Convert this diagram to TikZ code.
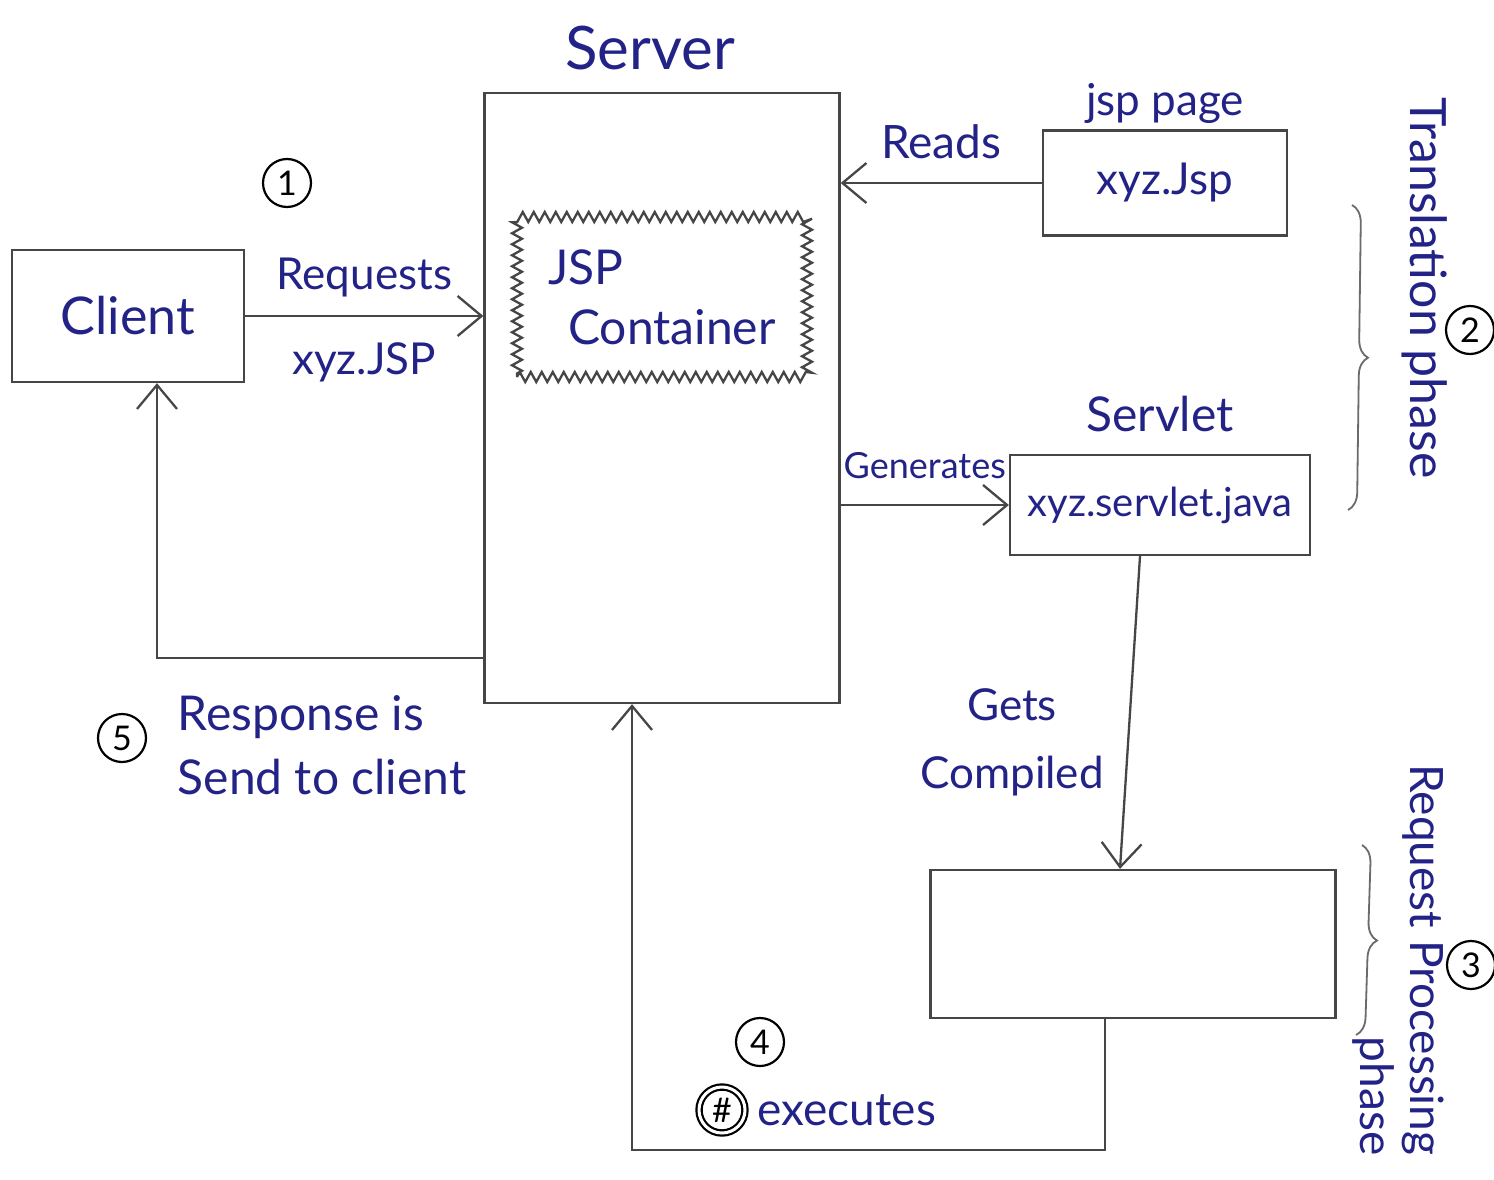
\documentclass[tikz,border=0pt]{standalone}
\usepackage{fontspec}
\setmainfont{Lato}
\usepackage{tikz}
\usetikzlibrary{positioning,calc,arrows.meta,decorations.pathmorphing,decorations.pathreplacing}
\definecolor{ink}{RGB}{35,35,135}
\definecolor{pencil}{RGB}{70,70,70}

\begin{document}
\begin{tikzpicture}[x=1pt, y=-1pt, >={Straight Barb[length=24pt,width=40pt]}, box/.style = {draw=pencil, line width=2.3pt, inner sep=0pt}, hand/.style = {text=ink, font=\fontsize{44}{56}\selectfont}, num/.style = {circle, draw=black, line width=2.2pt, minimum size=48pt, inner sep=0pt, font=\fontsize{34}{34}\selectfont}, flow/.style = {->, draw=pencil, line width=2.3pt}, curly/.style = {draw=pencil!80, line width=1.8pt, decorate, decoration={brace, amplitude=18pt}}]

\useasboundingbox[fill=white] (0,0) rectangle (1494,1180);

% server and container
\node[hand, font=\fontsize{60}{60}\selectfont] at (650,48) {Server};
\node[box, minimum width=355pt, minimum height=610pt] (server) at (662,398) {};
\node[box, hand, font=\fontsize{48}{60}\selectfont, decorate, decoration={zigzag, segment length=11pt, amplitude=5pt}, minimum width=290pt, minimum height=160pt, align=left] (container) at (662,297) {JSP\\\hspace{20pt}Container};

% client side
\node[box, hand, font=\fontsize{52}{52}\selectfont, minimum width=232pt, minimum height=132pt] (client) at (128,316) {Client};
\node[num] (one) at (287,183) {1};
\coordinate (back) at (157,658);
\path
 (client.east) edge[flow] node[hand, above=14pt] {Requests} node[hand, below=22pt] {xyz.JSP} (client.east -| server.west);
\draw[flow] (server.west |- back) -- (back) -- (back |- client.south);
\node[num] (five) at (122,738) {5};
\node[hand, font=\fontsize{48}{64}\selectfont, align=left] at (322,745) {Response is\\Send to client};

% jsp page and servlet
\node[box, hand, minimum width=244pt, minimum height=105pt] (jspfile) at (1165,183) {xyz.Jsp};
\node[hand, above=2pt of jspfile] {jsp page};
\node[box, hand, font=\fontsize{40}{40}\selectfont, minimum width=300pt, minimum height=100pt] (servlet) at (1160,505) {xyz.servlet.java};
\node[hand, font=\fontsize{48}{48}\selectfont, above=18pt of servlet] {Servlet};
\path
 (jspfile.west) edge[flow] node[hand, font=\fontsize{46}{46}\selectfont, above=20pt] {Reads} (jspfile.west -| server.east)
 (server.east |- servlet.west) edge[flow] node[hand, font=\fontsize{36}{36}\selectfont, above=22pt] {Generates} (servlet.west);

% compiled servlet
\node[box, minimum width=405pt, minimum height=148pt] (compiled) at (1133,944) {};
\draw[flow] ([xshift=-20pt]servlet.south) -- ([xshift=-13pt]compiled.north);
\node[hand, align=center, font=\fontsize{44}{68}\selectfont] at (1012,742) {Gets\\Compiled};
\coordinate (turn) at (632,1150);
\draw[flow] ([xshift=-28pt]compiled.south) |- (turn) -- (turn |- server.south);
\node[num] (four) at (760,1042) {4};
\node[num, double, double distance=3pt, minimum size=46pt] (scribble) at (722,1110) {\#};
\node[hand, font=\fontsize{46}{46}\selectfont, right=8pt of scribble] {executes};

% phases
\draw[curly] (1352,205) -- (1348,510);
\draw[curly] (1362,845) -- (1356,1035);
\node[hand, font=\fontsize{50}{50}\selectfont, rotate=-90] at (1425,288) {Translation phase};
\node[hand, font=\fontsize{46}{50}\selectfont, rotate=-90, align=right] at (1398,960) {Request Processing\\phase};
\node[num] (two) at (1470,330) {2};
\node[num] (three) at (1471,965) {3};
\end{tikzpicture}
\end{document}
